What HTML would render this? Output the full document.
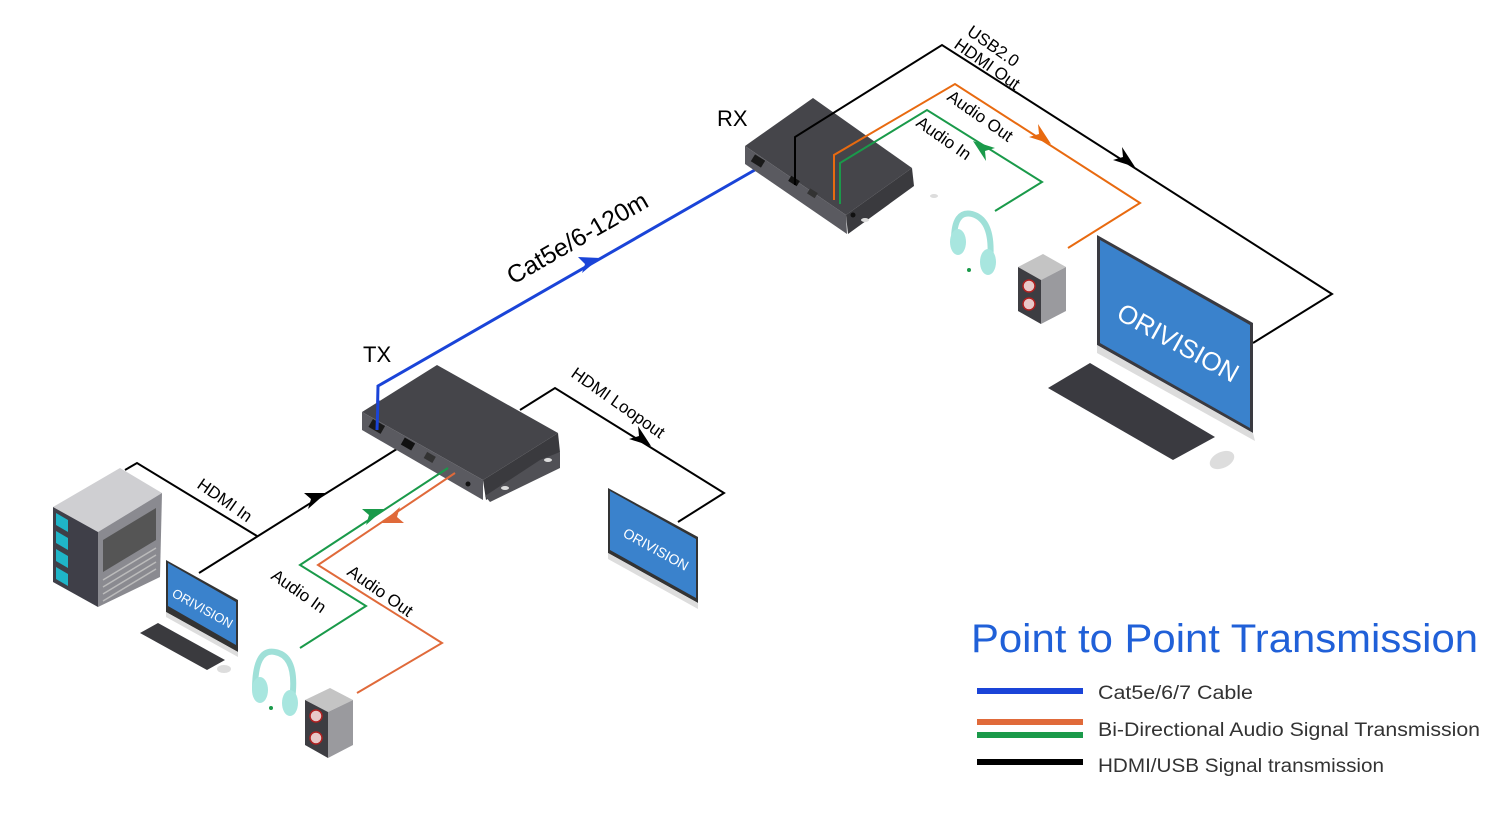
<!DOCTYPE html>
<html><head><meta charset="utf-8"><style>
html,body{margin:0;padding:0;background:#fff;}
svg{display:block;}
text{font-family:"Liberation Sans",Arial,sans-serif;}
</style></head><body>
<svg width="1500" height="821" viewBox="0 0 1500 821" xmlns="http://www.w3.org/2000/svg">

<!-- Blue cable -->
<polyline points="377,430 378,386 760,167" fill="none" stroke="#1a44d8" stroke-width="3"/>
<path d="M600,258 L582,273 L585,264 L578,257 z" fill="#1a44d8"/>

<!-- HDMI In -->
<polyline points="125,470 137,463 257,536" fill="none" stroke="#000" stroke-width="2"/>
<line x1="199" y1="573" x2="400" y2="447" stroke="#000" stroke-width="2"/>
<path d="M326,493 L308,509 L311,499 L304,493 z" fill="#000"/>

<!-- HDMI Loopout -->
<polyline points="520,410 555,388 724,493 678,522" fill="none" stroke="#000" stroke-width="2"/>
<path d="M651,446 L629,439 L639,436 L638,426 z" fill="#000"/>

<!-- TX device -->
<polygon points="362,412 437,365 558,433 483,480" fill="#45454a"/>
<polygon points="362,412 483,480 483,500 362,430" fill="#5a5a60"/>
<polygon points="483,480 558,433 560,452 486,500" fill="#3a3a3e"/>
<polygon points="540,460 560,452 560,468 490,502 485,496" fill="#505055"/>
<rect x="370" y="422" width="14" height="9" fill="#1a1a1a" transform="rotate(30 377 426)"/>
<rect x="402" y="440" width="12" height="8" fill="#111" transform="rotate(30 408 444)"/>
<rect x="425" y="454" width="10" height="7" fill="#333" transform="rotate(30 430 457)"/>
<circle cx="468" cy="484" r="2.5" fill="#111"/>
<ellipse cx="505" cy="488" rx="4" ry="2" fill="#ddd"/>
<ellipse cx="548" cy="460" rx="4" ry="2" fill="#ddd"/>
<line x1="377" y1="430" x2="378" y2="400" stroke="#1a44d8" stroke-width="3"/>

<!-- TX audio -->
<polyline points="448,468 300,565 366,606 300,648" fill="none" stroke="#1a9a4a" stroke-width="2"/>
<path d="M384,509 L366,525 L369,515 L362,509 z" fill="#1a9a4a"/>
<polyline points="455,473 318,565 442,643 357,693" fill="none" stroke="#e06a3a" stroke-width="2"/>
<path d="M382,523 L400,507 L397,517 L404,523 z" fill="#e06a3a"/>

<!-- RX device -->
<polygon points="745,146 813,98 912,168 846,215" fill="#45454a"/>
<polygon points="745,146 846,215 847,234 745,164" fill="#5a5a60"/>
<polygon points="846,215 912,168 914,186 848,234" fill="#3a3a3e"/>
<rect x="752" y="157" width="12" height="8" fill="#1a1a1a" transform="rotate(32 758 161)"/>
<rect x="789" y="178" width="10" height="6" fill="#111" transform="rotate(32 794 181)"/>
<rect x="808" y="190" width="9" height="6" fill="#333" transform="rotate(32 812 193)"/>
<circle cx="853" cy="215" r="2.5" fill="#111"/>
<ellipse cx="865" cy="220" rx="4" ry="2" fill="#ddd"/>
<ellipse cx="934" cy="196" rx="4" ry="2" fill="#ddd"/>

<!-- RX lines (over device) -->
<polyline points="795,185 795,137 942,45 1332,294 1253,343" fill="none" stroke="#000" stroke-width="2"/>
<path d="M1135,167 L1113,160 L1123,157 L1122,147 z" fill="#000"/>
<polyline points="834,200 834,155 955,84 1140,203 1068,248" fill="none" stroke="#e86a10" stroke-width="2"/>
<path d="M1051,144 L1029,137 L1039,134 L1038,124 z" fill="#e86a10"/>
<polyline points="840,204 840,163 927,110 1042,182 995,211" fill="none" stroke="#1a9a4a" stroke-width="2"/>
<path d="M973,141 L995,148 L985,151 L986,161 z" fill="#1a9a4a"/>

<!-- Server -->
<polygon points="53,507 120,468 162,493 98,532" fill="#cfcfd2"/>
<polygon points="53,507 98,532 98,607 53,582" fill="#3f3f48"/>
<polygon points="98,532 162,493 160,577 98,607" fill="#8a8a90"/>
<polygon points="103,540 156,508 156,540 103,572" fill="#555"/>
<g fill="#1fb5c8">
<polygon points="56,513 68,520 68,532 56,525"/>
<polygon points="56,531 68,538 68,550 56,543"/>
<polygon points="56,549 68,556 68,568 56,561"/>
<polygon points="56,567 68,574 68,586 56,579"/>
</g>
<g stroke="#bbb" stroke-width="1.5">
<line x1="103" y1="580" x2="156" y2="548"/><line x1="103" y1="587" x2="156" y2="555"/><line x1="103" y1="594" x2="156" y2="562"/><line x1="103" y1="601" x2="156" y2="569"/>
</g>

<!-- small PC monitor -->
<polygon points="166,560 238,600 238,652 166,612" fill="#333"/>
<polygon points="168,563 236,602 236,645 168,606" fill="#3a82cc"/>
<polygon points="166,612 238,652 238,657 166,617" fill="#ddd"/>
<text x="0" y="0" font-size="13" fill="#fff" transform="translate(171,596) rotate(29)">ORIVISION</text>
<polygon points="140,633 158,623 225,660 207,670" fill="#3a3a3e"/>
<ellipse cx="224" cy="669" rx="7" ry="4" fill="#ddd"/>

<!-- TX headphones & speaker -->
<path d="M255,690 Q255,648 275,652 Q298,656 292,700" fill="none" stroke="#9fe0d8" stroke-width="6"/>
<ellipse cx="260" cy="690" rx="8" ry="13" fill="#a8e6df"/>
<ellipse cx="290" cy="703" rx="8" ry="13" fill="#a8e6df"/>
<circle cx="271" cy="708" r="2" fill="#1a9a4a"/>
<polygon points="305,700 330,688 353,700 328,712" fill="#c4c4c4"/>
<polygon points="305,700 328,712 328,758 305,745" fill="#3d3d42"/>
<polygon points="328,712 353,700 353,745 328,758" fill="#9a9a9e"/>
<circle cx="316" cy="716" r="6" fill="#e8c8c8" stroke="#b02020" stroke-width="1.5"/>
<circle cx="316" cy="738" r="6" fill="#e8c8c8" stroke="#b02020" stroke-width="1.5"/>

<!-- small loopout monitor -->
<polygon points="608,488 698,537 698,603 608,553" fill="#333"/>
<polygon points="610,491 696,539 696,598 610,550" fill="#3a82cc"/>
<polygon points="608,553 698,603 698,609 608,559" fill="#ddd"/>
<text x="0" y="0" font-size="14" fill="#fff" transform="translate(622,536) rotate(29)">ORIVISION</text>

<!-- RX headphones & speaker -->
<path d="M954,240 Q954,210 972,214 Q994,220 990,262" fill="none" stroke="#9fe0d8" stroke-width="6"/>
<ellipse cx="958" cy="242" rx="8" ry="13" fill="#a8e6df"/>
<ellipse cx="988" cy="262" rx="8" ry="13" fill="#a8e6df"/>
<circle cx="969" cy="270" r="2" fill="#1a9a4a"/>
<polygon points="1018,267 1043,254 1066,267 1041,280" fill="#c4c4c4"/>
<polygon points="1018,267 1041,280 1041,324 1018,311" fill="#3d3d42"/>
<polygon points="1041,280 1066,267 1066,311 1041,324" fill="#9a9a9e"/>
<circle cx="1029" cy="286" r="6" fill="#e8c8c8" stroke="#b02020" stroke-width="1.5"/>
<circle cx="1029" cy="304" r="6" fill="#e8c8c8" stroke="#b02020" stroke-width="1.5"/>

<!-- big monitor -->
<polygon points="1097,235 1253,323 1253,433 1097,345" fill="#3a3a40"/>
<polygon points="1100,240 1250,325 1250,428 1100,343" fill="#3a82cc"/>
<polygon points="1097,345 1253,433 1255,441 1097,353" fill="#dcdcdc"/>
<text x="0" y="0" font-size="26" fill="#fff" transform="translate(1115,318) rotate(29)">ORIVISION</text>
<polygon points="1048,388 1090,363 1215,437 1173,460" fill="#3a3a40"/>
<ellipse cx="1222" cy="460" rx="13" ry="8" fill="#ddd" transform="rotate(-25 1222 460)"/>

<!-- labels -->
<text x="363" y="362" font-size="22">TX</text>
<text x="717" y="126" font-size="22">RX</text>
<text font-size="25" transform="translate(513,285) rotate(-30)">Cat5e/6-120m</text>
<text font-size="17" transform="translate(196,487) rotate(35)">HDMI In</text>
<text font-size="17" transform="translate(270,578) rotate(35)">Audio In</text>
<text font-size="17" transform="translate(346,574) rotate(35)">Audio Out</text>
<text font-size="17" transform="translate(570,376) rotate(35)">HDMI Loopout</text>
<text font-size="17" transform="translate(966,34) rotate(35)">USB2.0</text>
<text font-size="17" transform="translate(953,47) rotate(35)">HDMI Out</text>
<text font-size="17" transform="translate(946,99) rotate(35)">Audio Out</text>
<text font-size="17" transform="translate(915,125) rotate(35)">Audio In</text>

<!-- legend -->
<text x="971" y="652" font-size="40" fill="#2060d8" textLength="507" lengthAdjust="spacingAndGlyphs">Point to Point Transmission</text>
<rect x="977" y="688" width="106" height="6" fill="#1a44d8"/>
<rect x="977" y="719" width="106" height="6" fill="#e06a3a"/>
<rect x="977" y="732" width="106" height="6" fill="#1a9a4a"/>
<rect x="977" y="759" width="106" height="6" fill="#000"/>
<text x="1098" y="699" font-size="19" fill="#333" textLength="155" lengthAdjust="spacingAndGlyphs">Cat5e/6/7 Cable</text>
<text x="1098" y="736" font-size="19" fill="#333" textLength="382" lengthAdjust="spacingAndGlyphs">Bi-Directional Audio Signal Transmission</text>
<text x="1098" y="772" font-size="19" fill="#333" textLength="286" lengthAdjust="spacingAndGlyphs">HDMI/USB Signal transmission</text>
</svg>
</body></html>
